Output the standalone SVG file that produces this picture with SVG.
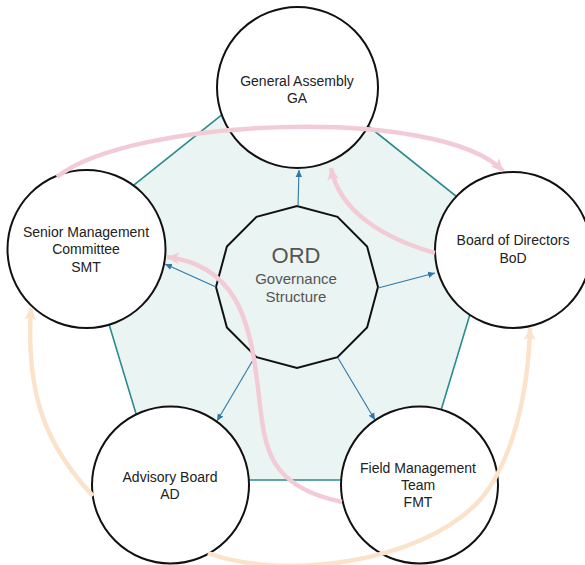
<svg xmlns="http://www.w3.org/2000/svg" width="585" height="565" viewBox="0 0 585 565">
<defs>
<style>
.node circle{fill:#fff;stroke:#111;stroke-width:2}
.lbl{font-family:"Liberation Sans",Arial,sans-serif;font-size:14px;fill:#222;text-anchor:middle}
.ctr{font-family:"Liberation Sans",Arial,sans-serif;fill:#555;text-anchor:middle}
.blue{stroke:#2f78a8;stroke-width:1.1;fill:none;marker-end:url(#ab)}
.pink{stroke:#f3cbd6;stroke-width:4.5;fill:none;marker-end:url(#ap)}
.orange{stroke:#fbe3cb;stroke-width:4.5;fill:none;marker-end:url(#ao)}
</style>
<marker id="ab" markerUnits="userSpaceOnUse" markerWidth="8" markerHeight="8" refX="7" refY="4" orient="auto"><path d="M0,0.8 L7,4 L0,7.2 z" fill="#2f78a8"/></marker>
<marker id="ap" markerUnits="userSpaceOnUse" markerWidth="14" markerHeight="14" refX="12" refY="7" orient="auto"><path d="M0,1 L12,7 L0,13 L3,7 z" fill="#f3cbd6"/></marker>
<marker id="ao" markerUnits="userSpaceOnUse" markerWidth="14" markerHeight="14" refX="12" refY="7" orient="auto"><path d="M0,1 L12,7 L0,13 L3,7 z" fill="#fbe3cb"/></marker>
</defs>
<rect width="585" height="565" fill="#fff"/>
<g id="pentagon">
<polygon points="288,62 496,228 420,480 156,480 80,228" fill="#eaf4f2" stroke="#2a8a8e" stroke-width="1.6"/>
</g>
<g id="center">
<polygon points="378,287 367.1,327.5 337.5,357.1 297,368 256.5,357.1 226.9,327.5 216,287 226.9,246.5 256.5,216.9 297,206 337.5,216.9 367.1,246.5" fill="#eaf4f2" stroke="#111" stroke-width="2"/>
<text class="ctr" x="296" y="263" font-size="22">ORD</text>
<text class="ctr" x="296" y="284" font-size="15">Governance</text>
<text class="ctr" x="296" y="302" font-size="15">Structure</text>
</g>
<g id="connectors-blue">
<path class="blue" d="M298,206 L299,170"/>
<path class="blue" d="M216,287 L165,264"/>
<path class="blue" d="M378,288 L435,273"/>
<path class="blue" d="M253,360 L217,421"/>
<path class="blue" d="M338,358 L375,420"/>
</g>
<g id="ga" class="node"><circle cx="297.5" cy="87.5" r="80.5"/><text class="lbl" x="297" y="86">General Assembly</text><text class="lbl" x="297" y="103">GA</text></g>
<g id="smt" class="node"><circle cx="86.5" cy="249" r="79"/><text class="lbl" x="86" y="237">Senior Management</text><text class="lbl" x="86" y="254">Committee</text><text class="lbl" x="86" y="272">SMT</text></g>
<g id="bod" class="node"><circle cx="513" cy="250" r="78"/><text class="lbl" x="513" y="245">Board of Directors</text><text class="lbl" x="513" y="263">BoD</text></g>
<g id="ad" class="node"><circle cx="170.5" cy="485" r="78.5"/><text class="lbl" x="170" y="482">Advisory Board</text><text class="lbl" x="170" y="499">AD</text></g>
<g id="fmt" class="node"><circle cx="419.5" cy="485" r="78.5"/><text class="lbl" x="418" y="473">Field Management</text><text class="lbl" x="418" y="490">Team</text><text class="lbl" x="418" y="507">FMT</text></g>
<g id="connectors">
<path class="pink" d="M57,177 C130,118 440,105 503,171"/>
<path class="pink" stroke-width="6" d="M435,253 C390,240 340,215 331,168"/>
<path class="pink" d="M342,502 C260,485 265,440 257,380 C250,320 235,265 167,257"/>
<path class="orange" d="M93,496 C50,450 25,400 31,308"/>
<path class="orange" d="M208,553 C280,580 420,565 480,500 C510,465 528,400 530,328"/>
</g>
</svg>
